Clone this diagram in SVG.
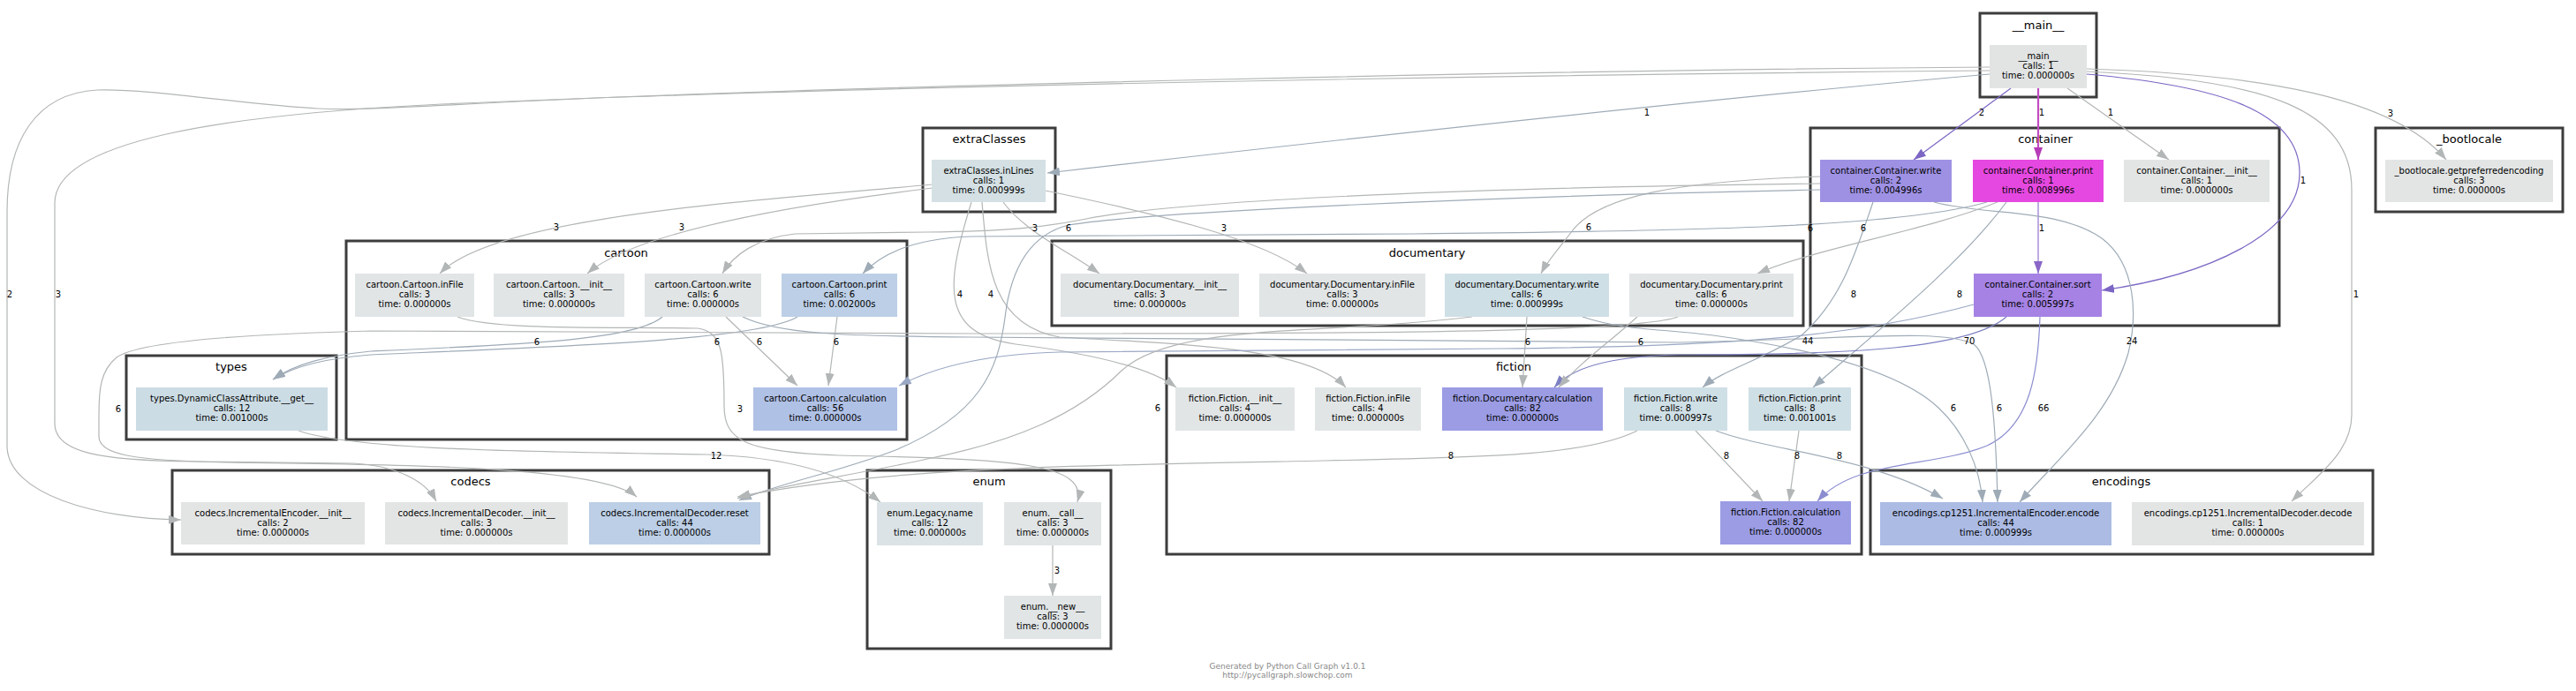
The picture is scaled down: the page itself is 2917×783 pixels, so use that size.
<svg xmlns="http://www.w3.org/2000/svg" width="2917" height="783" viewBox="0 0 2917 783">
<defs>
<style>
.cl{fill:#fff;stroke:#3c3c3c;stroke-width:3}
.ct{font-family:"DejaVu Sans",Verdana,sans-serif;font-size:13px;text-anchor:middle;fill:#000}
.t{font-family:"DejaVu Sans",Verdana,sans-serif;font-size:10px;text-anchor:middle;fill:#000}
.el{font-family:"DejaVu Sans",Verdana,sans-serif;font-size:10px;text-anchor:middle;fill:#000}
.ft{font-family:"DejaVu Sans",Verdana,sans-serif;font-size:9px;text-anchor:middle;fill:#888}
.e{fill:none;stroke-width:1.2}
.g{stroke:#b3b6b6}
.b{stroke:#9eabb7}
.p{stroke:#7c66c4}
.m{stroke:#c24cc4;stroke-width:2.2}
.v{stroke:#9272cf}
.i{stroke:#7d80c2}
.j{stroke:#8b8dd0}
.k{stroke:#9aa8c4}
</style>
<marker id="aG" viewBox="0 0 14 10" refX="14" refY="5" markerWidth="14" markerHeight="10" markerUnits="userSpaceOnUse" orient="auto"><path d="M0,0L14,5L0,10z" fill="#b3b6b6"/></marker>
<marker id="aB" viewBox="0 0 14 10" refX="14" refY="5" markerWidth="14" markerHeight="10" markerUnits="userSpaceOnUse" orient="auto"><path d="M0,0L14,5L0,10z" fill="#9eabb7"/></marker>
<marker id="aP" viewBox="0 0 14 10" refX="14" refY="5" markerWidth="14" markerHeight="10" markerUnits="userSpaceOnUse" orient="auto"><path d="M0,0L14,5L0,10z" fill="#7c66c4"/></marker>
<marker id="aM" viewBox="0 0 14 10" refX="14" refY="5" markerWidth="14" markerHeight="10" markerUnits="userSpaceOnUse" orient="auto"><path d="M0,0L14,5L0,10z" fill="#b63cb8"/></marker>
<marker id="aV" viewBox="0 0 14 10" refX="14" refY="5" markerWidth="14" markerHeight="10" markerUnits="userSpaceOnUse" orient="auto"><path d="M0,0L14,5L0,10z" fill="#8a66c8"/></marker>
<marker id="aI" viewBox="0 0 14 10" refX="14" refY="5" markerWidth="14" markerHeight="10" markerUnits="userSpaceOnUse" orient="auto"><path d="M0,0L14,5L0,10z" fill="#7d80c2"/></marker>
<marker id="aJ" viewBox="0 0 14 10" refX="14" refY="5" markerWidth="14" markerHeight="10" markerUnits="userSpaceOnUse" orient="auto"><path d="M0,0L14,5L0,10z" fill="#8b8dd0"/></marker>
<marker id="aK" viewBox="0 0 14 10" refX="14" refY="5" markerWidth="14" markerHeight="10" markerUnits="userSpaceOnUse" orient="auto"><path d="M0,0L14,5L0,10z" fill="#9aa8c4"/></marker>
</defs>
<rect width="2917" height="783" fill="#fff"/>

<g id="clusters">
<g id="cluster_main"><rect class="cl" x="2242" y="15" width="132" height="95"/><text class="ct" x="2308" y="33">__main__</text></g>
<g id="cluster_bootlocale"><rect class="cl" x="2690" y="145" width="212" height="95"/><text class="ct" x="2796" y="162">_bootlocale</text></g>
<g id="cluster_extraClasses"><rect class="cl" x="1045" y="145" width="150" height="95"/><text class="ct" x="1120" y="162">extraClasses</text></g>
<g id="cluster_container"><rect class="cl" x="2050" y="145" width="531" height="224"/><text class="ct" x="2316" y="162">container</text></g>
<g id="cluster_cartoon"><rect class="cl" x="392" y="273" width="635" height="225"/><text class="ct" x="709" y="291">cartoon</text></g>
<g id="cluster_documentary"><rect class="cl" x="1191" y="273" width="851" height="96"/><text class="ct" x="1616" y="291">documentary</text></g>
<g id="cluster_types"><rect class="cl" x="143" y="403" width="238" height="95"/><text class="ct" x="262" y="420">types</text></g>
<g id="cluster_fiction"><rect class="cl" x="1321" y="403" width="787" height="225"/><text class="ct" x="1714" y="420">fiction</text></g>
<g id="cluster_codecs"><rect class="cl" x="195" y="533" width="676" height="95"/><text class="ct" x="533" y="550">codecs</text></g>
<g id="cluster_enum"><rect class="cl" x="982" y="533" width="276" height="202"/><text class="ct" x="1120" y="550">enum</text></g>
<g id="cluster_encodings"><rect class="cl" x="2118" y="533" width="569" height="95"/><text class="ct" x="2402" y="550">encodings</text></g>
</g>

<g id="connectors">
<path class="e b" marker-end="url(#aB)" d="M2253,84 C1900,115 1500,160 1186,196"/>
<path class="e g" marker-end="url(#aG)" d="M2253,76 C1700,80 1000,98 700,110 C500,118 420,126 360,123 C280,119 170,100 110,102 C40,106 8,160 8,240 L8,505 C8,560 110,588 205,589"/>
<path class="e g" marker-end="url(#aG)" d="M2253,80 C1600,86 900,100 500,118 C250,130 62,160 62,230 L62,480 C62,512 110,522 220,523 L400,525 C450,528 482,545 494,568"/>
<path class="e g" marker-end="url(#aG)" d="M2363,78 C2560,84 2710,110 2770,181"/>
<path class="e g" marker-end="url(#aG)" d="M2363,81 C2570,90 2663,125 2663,215 L2663,470 C2663,512 2625,538 2595,568"/>
<path class="e p" marker-end="url(#aP)" d="M2363,84 C2510,97 2603,125 2604,195 C2605,265 2500,312 2380,329"/>
<path class="e p" marker-end="url(#aP)" d="M2277,100 L2167,181"/>
<path class="e m" marker-end="url(#aM)" d="M2308,100 L2308,181"/>
<path class="e g" marker-end="url(#aG)" d="M2341,100 L2456,181"/>
<path class="e v" marker-end="url(#aV)" d="M2308,229 L2308,310"/>
<path class="e g" marker-end="url(#aG)" d="M1056,209 C850,228 560,245 498,310"/>
<path class="e g" marker-end="url(#aG)" d="M1056,213 C900,232 720,262 665,310"/>
<path class="e g" marker-end="url(#aG)" d="M1136,229 C1160,262 1210,285 1245,310"/>
<path class="e g" marker-end="url(#aG)" d="M1184,216 C1300,240 1430,270 1480,310"/>
<path class="e g" marker-end="url(#aG)" d="M1100,229 C1072,320 1062,378 1150,390 C1230,400 1300,415 1332,439"/>
<path class="e g" marker-end="url(#aG)" d="M1112,229 C1118,300 1122,368 1200,382 C1330,390 1480,392 1524,439"/>
<path class="e g" marker-end="url(#aG)" d="M2061,208 C1700,212 1350,225 1230,248 C1180,258 1140,262 1050,263 L900,265 C855,270 830,290 818,310"/>
<path class="e g" marker-end="url(#aG)" d="M2061,200 C1900,205 1810,222 1780,262 C1765,282 1752,296 1745,310"/>
<path class="e b" marker-end="url(#aB)" d="M2121,229 C2100,290 2085,340 2040,380 C1990,410 1950,420 1928,439"/>
<path class="e b" marker-end="url(#aB)" d="M2190,229 C2250,245 2330,235 2380,270 C2420,300 2420,360 2410,400 C2390,470 2330,520 2287,569"/>
<path class="e b" marker-end="url(#aB)" d="M2061,215 C1700,222 1300,240 1210,255 C1170,265 1145,300 1138,360 C1130,420 1110,470 1014,510 C950,535 880,548 837,567"/>
<path class="e b" marker-end="url(#aB)" d="M2250,229 C2150,258 1900,262 1600,265 L1100,268 C1040,270 1000,285 977,310"/>
<path class="e g" marker-end="url(#aG)" d="M2262,229 C2180,262 2060,280 1990,310"/>
<path class="e b" marker-end="url(#aB)" d="M2272,229 C2220,300 2120,380 2053,439"/>
<path class="e k" marker-end="url(#aK)" d="M2235,345 C2100,382 1950,393 1700,395 L1200,399 C1120,401 1060,415 1018,437"/>
<path class="e i" marker-end="url(#aI)" d="M2272,359 C2230,395 2100,402 1900,402 C1820,404 1780,417 1760,439"/>
<path class="e j" marker-end="url(#aJ)" d="M2310,359 C2308,420 2300,482 2250,505 C2190,530 2100,520 2058,568"/>
<path class="e g" marker-end="url(#aG)" d="M822,359 L903,437"/>
<path class="e g" marker-end="url(#aG)" d="M948,359 L938,437"/>
<path class="e b" marker-end="url(#aB)" d="M750,359 C720,385 600,390 420,398 C370,403 335,412 309,430"/>
<path class="e b" marker-end="url(#aB)" d="M903,359 C860,385 650,392 420,402 C370,406 335,414 309,430"/>
<path class="e g" marker-end="url(#aG)" d="M1900,359 C1850,378 1500,378 1100,378 L420,375 C300,378 160,385 132,405 C114,420 112,440 112,470 L112,495 C112,515 150,522 260,524 C450,526 680,528 721,563"/>
<path class="e b" marker-end="url(#aB)" d="M841,359 C880,378 950,381 1100,382 L1900,388 C2100,384 2200,372 2235,390 C2255,405 2260,480 2262,569"/>
<path class="e g" marker-end="url(#aG)" d="M518,359 C560,375 700,370 790,372 C818,376 820,400 820,460 C820,500 845,512 950,516 C1150,520 1232,525 1220,569"/>
<path class="e g" marker-end="url(#aG)" d="M338,488 C400,510 600,512 800,515 C900,518 960,540 997,569"/>
<path class="e g" marker-end="url(#aG)" d="M1192,618 L1192,675"/>
<path class="e g" marker-end="url(#aG)" d="M1729,359 L1724,439"/>
<path class="e g" marker-end="url(#aG)" d="M1854,359 C1820,390 1790,410 1765,439"/>
<path class="e b" marker-end="url(#aB)" d="M1792,359 C1840,375 1880,372 1940,380 C2050,395 2150,420 2195,462 C2225,490 2242,530 2245,569"/>
<path class="e g" marker-end="url(#aG)" d="M1667,359 C1500,380 1330,365 1270,420 C1220,470 1150,500 1050,520 C960,540 880,550 835,565"/>
<path class="e g" marker-end="url(#aG)" d="M1920,488 L1996,568"/>
<path class="e g" marker-end="url(#aG)" d="M2037,488 L2026,568"/>
<path class="e b" marker-end="url(#aB)" d="M1943,488 C2000,510 2120,518 2200,565"/>
<path class="e g" marker-end="url(#aG)" d="M1854,488 C1800,515 1700,518 1500,522 C1200,528 1000,530 835,563"/>
</g>

<g id="nodes">
<g id="n_main"><rect x="2253" y="51" width="110" height="49" fill="#e2e4e4"/><text class="t" x="2308" y="67">__main__</text><text class="t" x="2308" y="78">calls: 1</text><text class="t" x="2308" y="89">time: 0.000000s</text></g>
<g id="n_cwrite"><rect x="2061" y="181" width="149" height="48" fill="#9e91e4"/><text class="t" x="2135.5" y="197">container.Container.write</text><text class="t" x="2135.5" y="208">calls: 2</text><text class="t" x="2135.5" y="219">time: 0.004996s</text></g>
<g id="n_cprint"><rect x="2234" y="181" width="148" height="48" fill="#e548e0"/><text class="t" x="2308" y="197">container.Container.print</text><text class="t" x="2308" y="208">calls: 1</text><text class="t" x="2308" y="219">time: 0.008996s</text></g>
<g id="n_cinit"><rect x="2405" y="181" width="165" height="48" fill="#e3e5e5"/><text class="t" x="2487.5" y="197">container.Container.__init__</text><text class="t" x="2487.5" y="208">calls: 1</text><text class="t" x="2487.5" y="219">time: 0.000000s</text></g>
<g id="n_csort"><rect x="2235" y="310" width="145" height="49" fill="#a582e4"/><text class="t" x="2307.5" y="326">container.Container.sort</text><text class="t" x="2307.5" y="337">calls: 2</text><text class="t" x="2307.5" y="348">time: 0.005997s</text></g>
<g id="n_extra"><rect x="1055" y="181" width="129" height="48" fill="#d4e0e4"/><text class="t" x="1119.5" y="197">extraClasses.inLines</text><text class="t" x="1119.5" y="208">calls: 1</text><text class="t" x="1119.5" y="219">time: 0.000999s</text></g>
<g id="n_boot"><rect x="2701" y="181" width="190" height="48" fill="#e3e5e5"/><text class="t" x="2796" y="197">_bootlocale.getpreferredencoding</text><text class="t" x="2796" y="208">calls: 3</text><text class="t" x="2796" y="219">time: 0.000000s</text></g>
<g id="n_ca_infile"><rect x="402" y="310" width="135" height="49" fill="#e1e5e6"/><text class="t" x="469.5" y="326">cartoon.Cartoon.inFile</text><text class="t" x="469.5" y="337">calls: 3</text><text class="t" x="469.5" y="348">time: 0.000000s</text></g>
<g id="n_ca_init"><rect x="559" y="310" width="148" height="49" fill="#e1e5e6"/><text class="t" x="633" y="326">cartoon.Cartoon.__init__</text><text class="t" x="633" y="337">calls: 3</text><text class="t" x="633" y="348">time: 0.000000s</text></g>
<g id="n_ca_write"><rect x="730" y="310" width="132" height="49" fill="#e1e5e6"/><text class="t" x="796" y="326">cartoon.Cartoon.write</text><text class="t" x="796" y="337">calls: 6</text><text class="t" x="796" y="348">time: 0.000000s</text></g>
<g id="n_ca_print"><rect x="885" y="310" width="131" height="49" fill="#bccfe6"/><text class="t" x="950.5" y="326">cartoon.Cartoon.print</text><text class="t" x="950.5" y="337">calls: 6</text><text class="t" x="950.5" y="348">time: 0.002000s</text></g>
<g id="n_ca_calc"><rect x="853" y="439" width="163" height="49" fill="#b0c1e6"/><text class="t" x="934.5" y="455">cartoon.Cartoon.calculation</text><text class="t" x="934.5" y="466">calls: 56</text><text class="t" x="934.5" y="477">time: 0.000000s</text></g>
<g id="n_do_init"><rect x="1201" y="310" width="202" height="49" fill="#e1e5e6"/><text class="t" x="1302" y="326">documentary.Documentary.__init__</text><text class="t" x="1302" y="337">calls: 3</text><text class="t" x="1302" y="348">time: 0.000000s</text></g>
<g id="n_do_infile"><rect x="1426" y="310" width="188" height="49" fill="#e1e5e6"/><text class="t" x="1520" y="326">documentary.Documentary.inFile</text><text class="t" x="1520" y="337">calls: 3</text><text class="t" x="1520" y="348">time: 0.000000s</text></g>
<g id="n_do_write"><rect x="1636" y="310" width="186" height="49" fill="#cfdfe6"/><text class="t" x="1729" y="326">documentary.Documentary.write</text><text class="t" x="1729" y="337">calls: 6</text><text class="t" x="1729" y="348">time: 0.000999s</text></g>
<g id="n_do_print"><rect x="1845" y="310" width="186" height="49" fill="#e1e5e6"/><text class="t" x="1938" y="326">documentary.Documentary.print</text><text class="t" x="1938" y="337">calls: 6</text><text class="t" x="1938" y="348">time: 0.000000s</text></g>
<g id="n_types"><rect x="154" y="439" width="217" height="49" fill="#ccdce4"/><text class="t" x="262.5" y="455">types.DynamicClassAttribute.__get__</text><text class="t" x="262.5" y="466">calls: 12</text><text class="t" x="262.5" y="477">time: 0.001000s</text></g>
<g id="n_fi_init"><rect x="1331" y="439" width="135" height="49" fill="#e1e5e6"/><text class="t" x="1398.5" y="455">fiction.Fiction.__init__</text><text class="t" x="1398.5" y="466">calls: 4</text><text class="t" x="1398.5" y="477">time: 0.000000s</text></g>
<g id="n_fi_infile"><rect x="1489" y="439" width="120" height="49" fill="#e1e5e6"/><text class="t" x="1549" y="455">fiction.Fiction.inFile</text><text class="t" x="1549" y="466">calls: 4</text><text class="t" x="1549" y="477">time: 0.000000s</text></g>
<g id="n_fd_calc"><rect x="1633" y="439" width="182" height="49" fill="#9b9ce4"/><text class="t" x="1724" y="455">fiction.Documentary.calculation</text><text class="t" x="1724" y="466">calls: 82</text><text class="t" x="1724" y="477">time: 0.000000s</text></g>
<g id="n_fi_write"><rect x="1839" y="439" width="117" height="49" fill="#cfdfe6"/><text class="t" x="1897.5" y="455">fiction.Fiction.write</text><text class="t" x="1897.5" y="466">calls: 8</text><text class="t" x="1897.5" y="477">time: 0.000997s</text></g>
<g id="n_fi_print"><rect x="1980" y="439" width="116" height="49" fill="#cfdfe6"/><text class="t" x="2038" y="455">fiction.Fiction.print</text><text class="t" x="2038" y="466">calls: 8</text><text class="t" x="2038" y="477">time: 0.001001s</text></g>
<g id="n_fi_calc"><rect x="1948" y="568" width="148" height="49" fill="#9b9ce4"/><text class="t" x="2022" y="584">fiction.Fiction.calculation</text><text class="t" x="2022" y="595">calls: 82</text><text class="t" x="2022" y="606">time: 0.000000s</text></g>
<g id="n_enc_init"><rect x="205" y="569" width="208" height="48" fill="#e3e5e5"/><text class="t" x="309" y="585">codecs.IncrementalEncoder.__init__</text><text class="t" x="309" y="596">calls: 2</text><text class="t" x="309" y="607">time: 0.000000s</text></g>
<g id="n_dec_init"><rect x="436" y="569" width="207" height="48" fill="#e3e5e5"/><text class="t" x="539.5" y="585">codecs.IncrementalDecoder.__init__</text><text class="t" x="539.5" y="596">calls: 3</text><text class="t" x="539.5" y="607">time: 0.000000s</text></g>
<g id="n_reset"><rect x="667" y="569" width="194" height="48" fill="#bccfe6"/><text class="t" x="764" y="585">codecs.IncrementalDecoder.reset</text><text class="t" x="764" y="596">calls: 44</text><text class="t" x="764" y="607">time: 0.000000s</text></g>
<g id="n_legacy"><rect x="993" y="569" width="120" height="49" fill="#dbe3e6"/><text class="t" x="1053" y="585">enum.Legacy.name</text><text class="t" x="1053" y="596">calls: 12</text><text class="t" x="1053" y="607">time: 0.000000s</text></g>
<g id="n_call"><rect x="1137" y="569" width="110" height="49" fill="#e1e5e6"/><text class="t" x="1192" y="585">enum.__call__</text><text class="t" x="1192" y="596">calls: 3</text><text class="t" x="1192" y="607">time: 0.000000s</text></g>
<g id="n_new"><rect x="1137" y="675" width="110" height="49" fill="#e1e5e6"/><text class="t" x="1192" y="691">enum.__new__</text><text class="t" x="1192" y="702">calls: 3</text><text class="t" x="1192" y="713">time: 0.000000s</text></g>
<g id="n_encode"><rect x="2129" y="569" width="262" height="49" fill="#abbbe4"/><text class="t" x="2260" y="585">encodings.cp1251.IncrementalEncoder.encode</text><text class="t" x="2260" y="596">calls: 44</text><text class="t" x="2260" y="607">time: 0.000999s</text></g>
<g id="n_decode"><rect x="2414" y="569" width="263" height="49" fill="#e3e5e5"/><text class="t" x="2545.5" y="585">encodings.cp1251.IncrementalDecoder.decode</text><text class="t" x="2545.5" y="596">calls: 1</text><text class="t" x="2545.5" y="607">time: 0.000000s</text></g>
</g>

<g id="edge-labels">
<text class="el" x="1865" y="131">1</text><text class="el" x="2244" y="131">2</text><text class="el" x="2312" y="131">1</text><text class="el" x="2390" y="131">1</text><text class="el" x="2707" y="132">3</text><text class="el" x="2608" y="208">1</text>
<text class="el" x="630" y="261">3</text><text class="el" x="772" y="261">3</text><text class="el" x="1172" y="262">3</text><text class="el" x="1210" y="262">6</text><text class="el" x="1386" y="262">3</text><text class="el" x="1799" y="261">6</text><text class="el" x="2050" y="262">6</text><text class="el" x="2110" y="262">6</text><text class="el" x="2312" y="262">1</text>
<text class="el" x="11" y="337">2</text><text class="el" x="66" y="337">3</text><text class="el" x="1087" y="337">4</text><text class="el" x="1122" y="337">4</text><text class="el" x="2099" y="337">8</text><text class="el" x="2219" y="337">8</text><text class="el" x="2668" y="337">1</text>
<text class="el" x="608" y="391">6</text><text class="el" x="812" y="391">6</text><text class="el" x="860" y="391">6</text><text class="el" x="947" y="391">6</text><text class="el" x="1730" y="391">6</text><text class="el" x="1858" y="391">6</text><text class="el" x="2047" y="390">44</text><text class="el" x="2230" y="390">70</text><text class="el" x="2414" y="390">24</text>
<text class="el" x="134" y="467">6</text><text class="el" x="838" y="467">3</text><text class="el" x="1311" y="466">6</text><text class="el" x="2212" y="466">6</text><text class="el" x="2264" y="466">6</text><text class="el" x="2314" y="466">66</text>
<text class="el" x="811" y="520">12</text><text class="el" x="1643" y="520">8</text><text class="el" x="1955" y="520">8</text><text class="el" x="2035" y="520">8</text><text class="el" x="2083" y="520">8</text>
<text class="el" x="1197" y="650">3</text>
</g>

<g id="footer">
<text class="ft" x="1458" y="758">Generated by Python Call Graph v1.0.1</text>
<text class="ft" x="1458" y="768">http://pycallgraph.slowchop.com</text>
</g>
</svg>
